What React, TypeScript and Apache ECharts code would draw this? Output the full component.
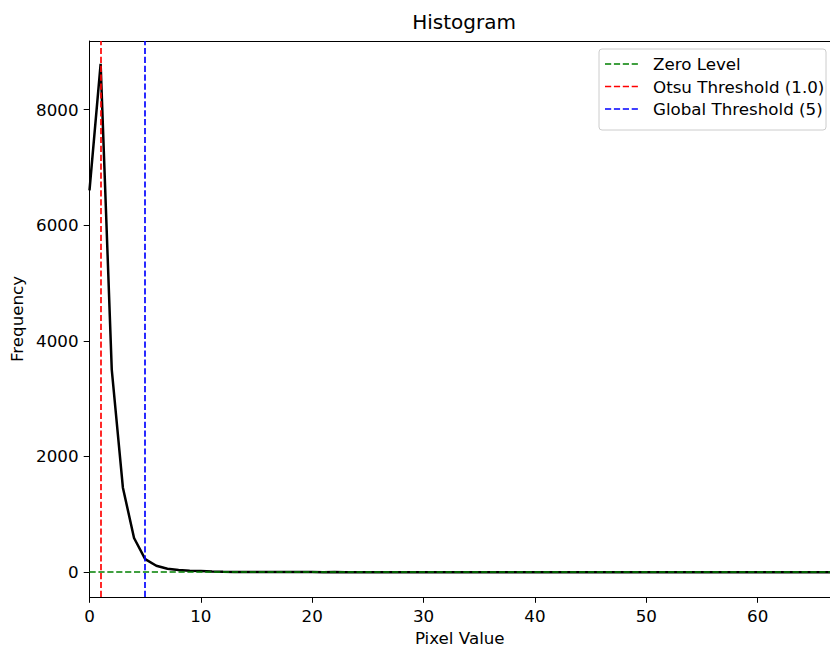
import React, { useEffect, useRef } from "react";
import * as echarts from "echarts";

const pixelValues: number[] = Array.from({ length: 68 }, (_, i) => i);
const frequencies: number[] = [
  6600, 8790, 3500, 1460, 590, 225, 110, 60, 35, 25, 20, 10, 6, 4, 3, 2, 2, 1, 1, 1,
  1, 0, 1, 0, 0, 0, 0, 0, 0, 0, 0, 0, 0, 0, 0, 0, 0, 0, 0, 0,
  0, 0, 0, 0, 0, 0, 0, 0, 0, 0, 0, 0, 0, 0, 0, 0, 0, 0, 0, 0,
  0, 0, 0, 0, 0, 0, 0, 0,
];
const otsuThreshold = 1.0;
const globalThreshold = 5;
const zeroLevel = 0;
const titleText = "Histogram";
const legendLabels = ["Zero Level", "Otsu Threshold (1.0)", "Global Threshold (5)"];
const legendColors = ["#008000", "#ff0000", "#0000ff"];

const FONT = "DejaVu Sans";
const FS = 16.7;

export default function App() {
  const ref = useRef<HTMLDivElement>(null);
  useEffect(() => {
    if (!ref.current) return;
    const chart = echarts.init(ref.current, null, { renderer: "svg" });
    const dash = [6.2, 2.7];
    const legendX = 599;
    const legendY = 49;
    const gfx: any[] = [
      {
        type: "text",
        x: 464,
        y: 22,
        z: 11,
        style: {
          text: titleText,
          fill: "#000",
          font: `20px "${FONT}"`,
          align: "center",
          verticalAlign: "middle",
        },
      },
      {
        type: "rect",
        shape: { x: legendX, y: legendY, width: 227, height: 81, r: 3 },
        style: { fill: "rgba(255,255,255,0.8)", stroke: "#cccccc", lineWidth: 1 },
        z: 10,
      },
    ];
    legendLabels.forEach((lbl, i) => {
      const cy = legendY + 15 + i * 22.5;
      gfx.push({
        type: "line",
        shape: { x1: legendX + 6, y1: cy, x2: legendX + 40, y2: cy },
        style: { stroke: legendColors[i], lineWidth: 1.67, lineDash: dash },
        z: 11,
      });
      gfx.push({
        type: "text",
        x: legendX + 54,
        y: cy,
        z: 11,
        style: {
          text: lbl,
          fill: "#000",
          font: `${FS}px "${FONT}"`,
          verticalAlign: "middle",
        },
      });
    });
    chart.setOption({
      animation: false,
      grid: { left: 89.5, right: 0, top: 41, bottom: 50.5, containLabel: false },
      xAxis: [
        {
          type: "value",
          min: 0,
          max: 66.5,
          splitLine: { show: false },
          axisLine: { show: true, onZero: false, lineStyle: { color: "#000", width: 1 } },
          axisTick: { show: true, length: 5.8, lineStyle: { color: "#000" } },
          axisLabel: {
            color: "#000",
            fontFamily: FONT,
            fontSize: FS,
            margin: 10,
            showMaxLabel: false,
            formatter: (v: number) => (v % 10 === 0 ? String(v) : ""),
          },
          name: "Pixel Value",
          nameLocation: "middle",
          nameGap: 32,
          nameTextStyle: { color: "#000", fontFamily: FONT, fontSize: FS },
        },
        {
          type: "value",
          position: "top",
          min: 0,
          max: 66.5,
          splitLine: { show: false },
          axisLine: { show: true, onZero: false, lineStyle: { color: "#000", width: 1 } },
          axisTick: { show: false },
          axisLabel: { show: false },
        },
      ],
      yAxis: {
        type: "value",
        min: -430,
        max: 9185,
        splitNumber: 5,
        splitLine: { show: false },
        axisLine: { show: true, onZero: false, lineStyle: { color: "#000", width: 1 } },
        axisTick: { show: true, length: 5.8, lineStyle: { color: "#000" } },
        axisLabel: {
          color: "#000",
          fontFamily: FONT,
          fontSize: FS,
          margin: 11,
          showMinLabel: false,
          showMaxLabel: false,
          formatter: (v: number) => (v % 2000 === 0 ? String(v) : ""),
        },
        name: "Frequency",
        nameLocation: "middle",
        nameRotate: 90,
        nameGap: 62,
        nameTextStyle: { color: "#000", fontFamily: FONT, fontSize: FS },
      },
      series: [
        {
          type: "line",
          data: pixelValues.map((x, i) => [x, frequencies[i]]),
          showSymbol: false,
          symbol: "none",
          lineStyle: { color: "#000", width: 2.5 },
          clip: true,
          silent: true,
          z: 2,
        },
        {
          type: "line",
          data: [],
          silent: true,
          z: 3,
          markLine: {
            silent: true,
            symbol: "none",
            label: { show: false },
            animation: false,
            data: [
              { yAxis: zeroLevel, lineStyle: { color: legendColors[0], width: 1.67, type: dash } },
              { xAxis: otsuThreshold, lineStyle: { color: legendColors[1], width: 1.67, type: dash } },
              { xAxis: globalThreshold, lineStyle: { color: legendColors[2], width: 1.67, type: dash } },
            ],
          },
        },
      ],
      graphic: gfx,
    });
    return () => chart.dispose();
  }, []);
  return (
    <div
      ref={ref}
      style={{ position: "fixed", left: 0, top: 0, width: 830, height: 651, background: "#fff" }}
    />
  );
}
